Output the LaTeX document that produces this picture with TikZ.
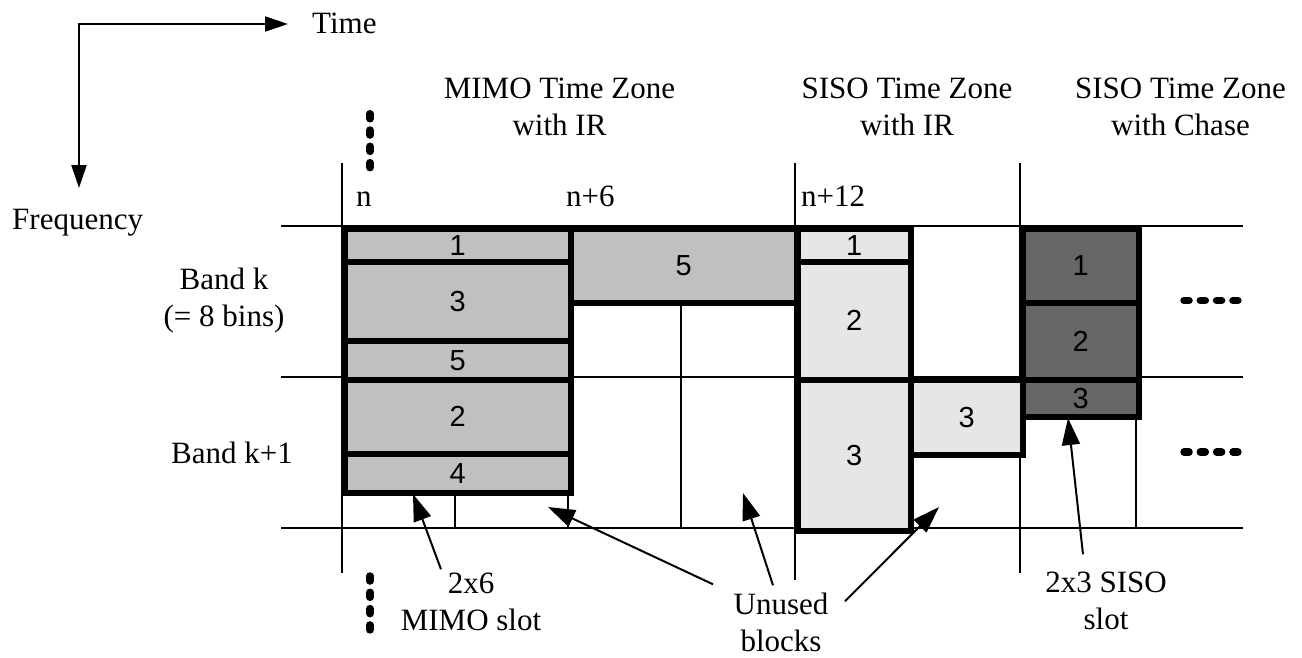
\documentclass[tikz,border=0pt]{standalone}
\usepackage{fontspec}
\setmainfont{Liberation Serif}
\newfontfamily\digitfont{Liberation Sans}
\usetikzlibrary{arrows.meta}
\definecolor{mimogray}{HTML}{C0C0C0}
\definecolor{sisogray}{HTML}{E6E6E6}
\definecolor{chasegray}{HTML}{676767}
% name, x1, y1, x2, y2, fill style, number
\newcommand{\slotblock}[7]{%
  \node[block,#6,anchor=north west,minimum width={(#4-#2)*1pt},
        minimum height={(#5-#3)*1pt}] (#1) at (#2,#3) {#7};}
\begin{document}
\begin{tikzpicture}[x=1pt,y=-1pt,
    grid line/.style={line width=1.6pt},
    block/.style={draw,line width=5.5pt,inner sep=0pt,font=\digitfont\fontsize{29}{29}\selectfont},
    mimo/.style={fill=mimogray},siso/.style={fill=sisogray},chase/.style={fill=chasegray},
    txt/.style={inner sep=0pt,align=center,font=\fontsize{31}{37}\selectfont},
    axis arrow/.style={line width=2.2pt,{Triangle[length=23pt,width=15pt]}-{Triangle[length=23pt,width=15pt]}},
    pointer/.style={line width=2pt,-{Triangle[length=27pt,width=18pt]}},
    dots/.style={line width=7.5pt,line cap=round,dash pattern=on 5pt off 11.3pt},
  ]
  \useasboundingbox (0,0) rectangle (1302,657);
  % axes
  \coordinate (origin) at (79,24);
  \coordinate (timetip) at (288,24);
  \coordinate (freqtip) at (79,188);
  \draw[axis arrow] (timetip) -- (origin) -- (freqtip);
  \node[txt,anchor=base west] (time) at (312,33) {Time};
  \node[txt,anchor=base west] (freq) at (12,229) {Frequency};
  % zones and slots (base = last line)
  \node[txt,anchor=base] (mimozone) at (559.5,135) {MIMO Time Zone\\with IR};
  \node[txt,anchor=base] (sisozone) at (907,135) {SISO Time Zone\\with IR};
  \node[txt,anchor=base] (chasezone) at (1180.5,135) {SISO Time Zone\\with Chase};
  \node[txt,anchor=base west] (tn) at (356,206) {n};
  \node[txt,anchor=base west] (tn6) at (566,206) {n+6};
  \node[txt,anchor=base west] (tn12) at (801,206) {n+12};
  \node[txt,anchor=base] (bandk) at (224,326) {Band k\\(= 8 bins)};
  \node[txt,anchor=base] (bandk1) at (232,463) {Band k+1};
  \begin{scope}[grid line]
    \foreach \y in {226,377,528}
      \draw (281,\y) -- (1243,\y);
    \draw (342,163) -- (342,573);
    \draw (795,163) -- (795,580);
    \draw (1020,163) -- (1020,573);
    \draw (455,490) -- (455,528);
    \draw (568,490) -- (568,528);
    \draw (681,300) -- (681,528);
    \draw (1136,414) -- (1136,528);
  \end{scope}
  \draw[dots] (370,113.75) -- (370,168.5);
  \draw[dots] (370,576) -- (370,630);
  \draw[dots] (1184,300.5) -- (1238.5,300.5);
  \draw[dots] (1184,452) -- (1238.5,452);
  % MIMO zone
  \slotblock{m1}{342}{226}{568}{259}{mimo}{1}
  \slotblock{m3}{342}{259}{568}{338}{mimo}{3}
  \slotblock{m5}{342}{338}{568}{377}{mimo}{5}
  \slotblock{m2}{342}{377}{568}{451}{mimo}{2}
  \slotblock{m4}{342}{451}{568}{490}{mimo}{4}
  \slotblock{m5b}{568}{226}{794}{300}{mimo}{5}
  % SISO zone with IR
  \slotblock{s1}{795}{226}{908}{259}{siso}{1}
  \slotblock{s2}{795}{259}{908}{377}{siso}{2}
  \slotblock{s3}{795}{377}{908}{528}{siso}{3}
  \slotblock{s3b}{908}{377}{1020}{452}{siso}{3}
  % SISO zone with Chase
  \slotblock{c1}{1020}{226}{1136}{300}{chase}{1}
  \slotblock{c2}{1020}{300}{1136}{377}{chase}{2}
  \slotblock{c3}{1020}{377}{1136}{414}{chase}{3}
  % labels below
  \node[txt,anchor=base] (mimolbl) at (471,630) {2x6\\MIMO slot};
  \node[txt,anchor=base] (unused) at (781,651) {Unused\\blocks};
  \node[txt,anchor=base] (sisolbl) at (1106,629) {2x3 SISO\\slot};
  \coordinate (mimotip) at (413,494);
  \coordinate (unusedtipa) at (548,507);
  \coordinate (unusedtipb) at (743,493);
  \coordinate (unusedtipc) at (939,507);
  \coordinate (sisotip) at (1068,418);
  \draw[pointer] ([xshift=-30pt,yshift=3pt]mimolbl.north) -- (mimotip);
  \draw[pointer] ([xshift=-68pt,yshift=8pt]unused.north) -- (unusedtipa);
  \draw[pointer] ([xshift=-8pt,yshift=7pt]unused.north) -- (unusedtipb);
  \draw[pointer] ([xshift=64pt,yshift=-9pt]unused.north) -- (unusedtipc);
  \draw[pointer] ([xshift=-23pt,yshift=17pt]sisolbl.north) -- (sisotip);
\end{tikzpicture}
\end{document}
